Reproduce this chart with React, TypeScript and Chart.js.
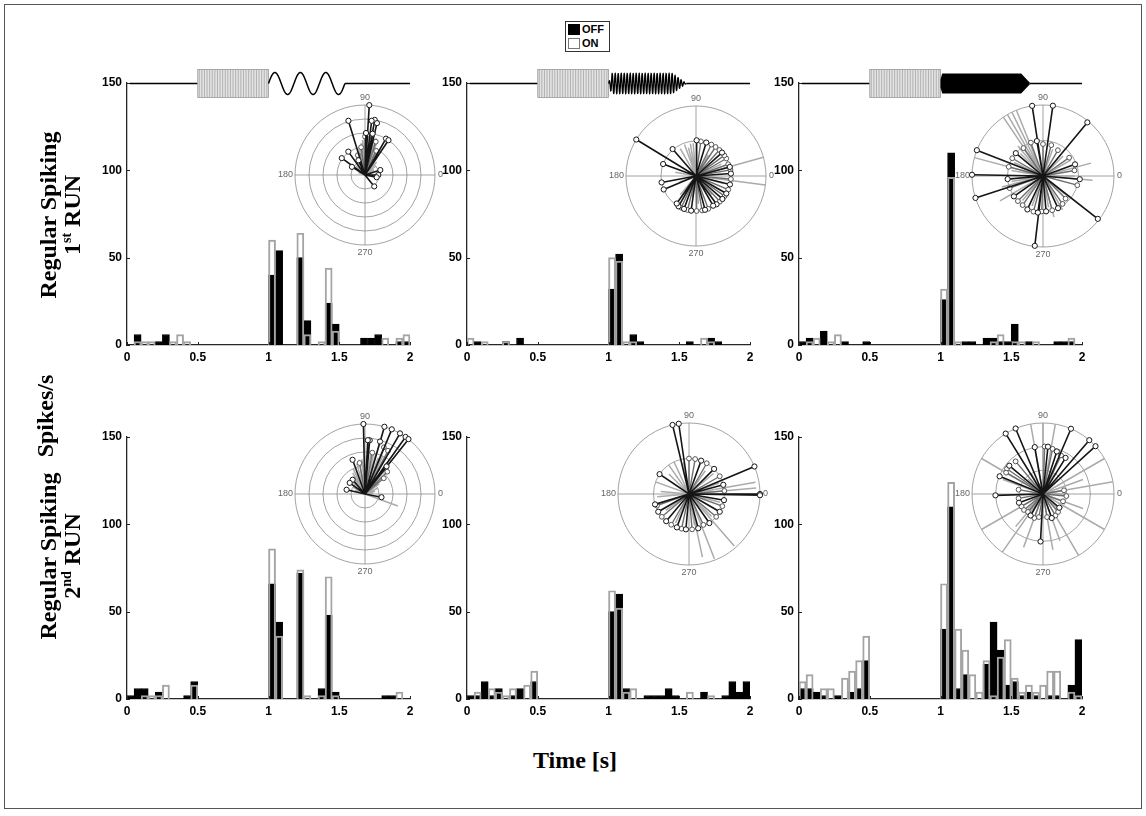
import React, { useEffect, useRef } from 'react';
import { Chart, registerables } from 'chart.js';

Chart.register(...registerables);

// ---------- data ----------
const BIN_W = 0.05;
const N_BINS = 40;
const BIN_CENTERS = Array.from({ length: N_BINS }, (_, i) => +((i + 0.5) * BIN_W).toFixed(3));
const X_TICKS = [0, 0.5, 1, 1.5, 2];
const X_TICK_LABELS = ['0', '0.5', '1', '1.5', '2'];
const Y_TICKS = [0, 50, 100, 150];

// Row 1 (1st RUN)
const R1C1_OFF = [0, 6, 0, 0, 2, 6, 0, 0, 0, 0, 0, 0, 0, 0, 0, 0, 0, 0, 0, 0, 40, 54, 0, 0, 50, 14, 0, 0, 24, 12, 0, 0, 0, 4, 4, 6, 0, 0, 2, 2];
const R1C1_ON = [0, 2, 2, 2, 0, 0, 2, 6, 2, 0, 0, 0, 0, 0, 0, 0, 0, 0, 0, 0, 60, 0, 0, 0, 64, 6, 0, 2, 44, 8, 0, 0, 0, 0, 0, 0, 4, 0, 4, 6];
const R1C2_OFF = [0, 2, 0, 0, 0, 2, 0, 4, 0, 0, 0, 0, 0, 0, 0, 0, 0, 0, 0, 0, 32, 52, 0, 6, 2, 0, 0, 0, 0, 0, 0, 2, 0, 0, 4, 2, 0, 0, 0, 0];
const R1C2_ON = [4, 0, 2, 0, 0, 2, 0, 0, 0, 0, 0, 0, 0, 0, 0, 0, 0, 0, 0, 0, 50, 48, 2, 2, 0, 0, 0, 0, 0, 0, 0, 0, 0, 4, 2, 0, 0, 0, 0, 0];
const R1C3_OFF = [2, 4, 0, 8, 0, 0, 2, 0, 0, 2, 0, 0, 0, 0, 0, 0, 0, 0, 0, 0, 26, 110, 0, 2, 2, 0, 4, 4, 2, 2, 12, 0, 2, 0, 0, 0, 2, 2, 2, 0];
const R1C3_ON = [0, 2, 4, 0, 2, 6, 0, 0, 0, 0, 0, 0, 0, 0, 0, 0, 0, 0, 0, 0, 32, 96, 2, 0, 0, 0, 0, 2, 6, 0, 2, 2, 0, 2, 0, 0, 0, 0, 4, 0];
// Row 2 (2nd RUN)
const R2C1_OFF = [2, 6, 6, 0, 4, 0, 0, 0, 2, 10, 0, 0, 0, 0, 0, 0, 0, 0, 0, 0, 66, 44, 0, 0, 72, 0, 0, 6, 48, 4, 0, 0, 0, 0, 0, 0, 2, 2, 0, 0];
const R2C1_ON = [0, 0, 2, 2, 2, 8, 0, 0, 0, 8, 0, 0, 0, 0, 0, 0, 0, 0, 0, 0, 86, 36, 0, 0, 74, 2, 0, 2, 70, 2, 0, 0, 0, 0, 0, 0, 0, 0, 4, 0];
const R2C2_OFF = [2, 2, 10, 2, 6, 0, 2, 6, 0, 10, 0, 0, 0, 0, 0, 0, 0, 0, 0, 0, 50, 60, 6, 0, 0, 2, 2, 2, 6, 2, 0, 0, 0, 4, 0, 0, 2, 10, 4, 10];
const R2C2_ON = [0, 4, 0, 6, 4, 2, 6, 0, 8, 16, 0, 0, 0, 0, 0, 0, 0, 0, 0, 0, 62, 52, 4, 6, 0, 0, 0, 0, 0, 0, 0, 4, 0, 0, 2, 0, 0, 0, 0, 0];
const R2C3_OFF = [6, 6, 4, 2, 0, 2, 0, 4, 6, 22, 0, 0, 0, 0, 0, 0, 0, 0, 0, 0, 40, 110, 6, 14, 0, 0, 20, 44, 28, 8, 10, 2, 4, 2, 0, 2, 2, 0, 8, 34];
const R2C3_ON = [10, 14, 0, 6, 6, 0, 12, 16, 22, 36, 0, 0, 0, 0, 0, 0, 0, 0, 0, 0, 66, 124, 40, 28, 14, 4, 22, 2, 24, 34, 12, 4, 8, 4, 8, 16, 16, 0, 4, 2];

// Polar spokes: [angle in degrees, radius as fraction of outer ring]
const P1_DARK = [[86.5, 1.0], [107, 0.81], [80, 0.8], [83, 0.78], [77, 0.76], [79.6, 0.6], [60, 0.6], [56, 0.6], [88.6, 0.6], [125.5, 0.41], [144, 0.41], [148, 0.22], [114, 0.23], [18, 0.23], [0, 0.19], [-11, 0.17], [-51, 0.21]];
const P1_GRAY = [[72, 0.5], [90, 0.55], [98, 0.4], [65, 0.38], [110, 0.3]];
const P1_LIGHT = [[62, 0.35], [66, 0.42], [70, 0.5], [73, 0.55], [76, 0.52], [79, 0.58], [82, 0.6], [85, 0.56], [88, 0.6], [91, 0.52], [94, 0.5], [97, 0.46], [100, 0.42], [104, 0.38], [108, 0.32], [112, 0.3], [118, 0.26], [125, 0.22], [135, 0.18], [145, 0.15], [55, 0.3], [48, 0.25], [40, 0.2], [30, 0.15], [20, 0.12], [160, 0.1]];

const P2_DARK = [[148.6, 1.0], [160, 0.5], [190.6, 0.5], [202.6, 0.5], [131, 0.51], [89, 0.51], [73, 0.5], [42, 0.5], [15, 0.5], [4, 0.5], [-14, 0.5], [-41, 0.5], [-54, 0.5], [-75, 0.5], [-110, 0.5], [-120, 0.5], [-125, 0.48], [-30, 0.5], [-60, 0.49], [-98, 0.5]];
const P2_GRAY = [[56, 0.5], [30, 0.5], [-23, 0.5], [-69.5, 0.5], [-89, 0.5], [-104, 0.5], [-115, 0.5], [20, 0.49], [36, 0.5], [48, 0.5], [64, 0.5], [82, 0.5], [10, 0.5], [-5, 0.5], [-35, 0.5], [-47, 0.5], [-80, 0.5]];
const P2_LIGHT = [[15.6, 1.0], [-7.3, 1.0], [100, 0.47], [110, 0.48], [120, 0.45], [95, 0.47], [105, 0.42], [-100, 0.3], [-130, 0.35], [170, 0.3], [-160, 0.25], [60, 0.35], [25, 0.4], [-15, 0.4], [-50, 0.35], [-85, 0.4]];

const P3_DARK = [[98.8, 1.0], [82, 1.0], [50.4, 0.98], [158.7, 1.0], [179, 1.0], [198, 1.0], [-38, 0.98], [-96.7, 0.99], [140, 0.5], [185, 0.5], [215, 0.5], [245, 0.52], [262, 0.52], [275, 0.5], [295, 0.5], [-5, 0.52], [20, 0.48], [100, 0.5]];
const P3_GRAY = [[110, 0.5], [125, 0.48], [150, 0.5], [165, 0.5], [200, 0.5], [225, 0.5], [235, 0.5], [255, 0.52], [268, 0.5], [285, 0.5], [305, 0.48], [315, 0.45], [345, 0.5], [10, 0.45], [35, 0.45], [60, 0.42], [75, 0.45], [90, 0.45]];
const P3_LIGHT = [[112, 1.0], [116, 1.0], [120, 1.0], [124, 1.0], [165, 1.0], [15, 0.7], [-5, 0.7], [195, 0.6], [210, 0.7], [-75, 0.6], [-60, 0.55], [130, 0.55], [30, 0.45], [45, 0.4], [170, 0.45], [190, 0.45], [230, 0.45], [250, 0.45], [280, 0.45], [320, 0.4], [0, 0.45], [70, 0.4], [135, 0.45], [155, 0.45]];

const P4_DARK = [[91.3, 1.0], [73.9, 1.0], [67.5, 1.0], [60, 1.0], [54.6, 1.0], [51.6, 1.0], [85, 0.77], [87, 0.77], [74, 0.78], [110, 0.52], [131, 0.27], [144, 0.27], [167, 0.27], [-11, 0.24], [52, 0.5]];
const P4_GRAY = [[62, 0.7], [68, 0.72], [80, 0.6], [45, 0.45], [40, 0.35], [100, 0.45]];
const P4_LIGHT = [[-20, 0.5], [65, 0.6], [70, 0.55], [75, 0.6], [78, 0.62], [82, 0.6], [88, 0.55], [95, 0.5], [100, 0.5], [105, 0.45], [115, 0.4], [120, 0.35], [125, 0.3], [55, 0.55], [50, 0.45], [45, 0.35], [35, 0.25], [25, 0.2], [15, 0.15], [5, 0.12], [135, 0.25], [150, 0.2], [160, 0.15]];

const P5_DARK = [[103.4, 1.0], [98.3, 1.0], [22.8, 1.0], [0, 1.0], [-1, 1.0], [146, 0.5], [197, 0.5], [210, 0.5], [230, 0.5], [250, 0.5], [265, 0.5], [285, 0.5], [305, 0.5], [330, 0.5], [350, 0.5], [15, 0.5], [45, 0.5], [70, 0.5]];
const P5_GRAY = [[200, 0.48], [220, 0.5], [240, 0.5], [258, 0.5], [275, 0.5], [295, 0.48], [320, 0.5], [340, 0.5], [5, 0.5], [30, 0.5], [60, 0.5], [80, 0.5], [90, 0.5]];
const P5_LIGHT = [[-48.9, 0.97], [-68.6, 0.98], [-78, 0.91], [5, 0.95], [10, 0.95], [115, 0.5], [125, 0.5], [160, 0.5], [175, 0.4], [185, 0.45], [100, 0.45], [135, 0.4], [215, 0.4], [245, 0.45], [280, 0.45], [315, 0.45], [345, 0.45], [20, 0.45], [40, 0.45], [55, 0.4]];

const P6_DARK = [[121.7, 1.0], [112.7, 1.0], [66.8, 1.0], [49.3, 1.0], [42.3, 1.0], [-93, 0.67], [181.6, 0.67], [157.8, 0.66], [140, 0.62], [100, 0.67], [84, 0.67], [72, 0.63], [58, 0.6], [200, 0.36], [240, 0.35], [290, 0.36], [320, 0.3]];
const P6_GRAY = [[145, 0.62], [150, 0.6], [88, 0.67], [78, 0.65], [65, 0.6], [130, 0.6], [210, 0.35], [220, 0.35], [230, 0.33], [250, 0.36], [260, 0.33], [280, 0.33], [300, 0.35], [310, 0.33], [340, 0.3], [355, 0.33], [10, 0.3], [170, 0.35], [190, 0.35]];
const P6_LIGHT = [[90, 1.0], [80, 1.0], [100, 1.0], [30, 1.0], [10, 1.0], [150, 1.0], [210, 1.0], [-30, 1.0], [-60, 1.0], [-80, 0.8], [-110, 0.8], [-125, 1.0], [-70, 0.7], [-20, 0.6], [20, 0.6], [160, 0.6], [230, 0.6], [0, 0.32], [30, 0.32], [60, 0.32], [120, 0.32], [180, 0.32], [270, 0.32], [45, 0.3], [135, 0.3], [225, 0.3], [315, 0.3]];

// Stimulus time windows (s)
const STIM_BASE_START = 0.02;
const STIM_ADAPT = [0.5, 1.0];
const STIM_TEST: Record<string, number[]> = { sine: [1.0, 1.54], fast: [1.0, 1.55], solid: [1.0, 1.63] };

const SANS = '"Liberation Sans", Arial, Helvetica, sans-serif';
const SERIF = '"Liberation Serif", "Times New Roman", Times, serif';

// ---------- plugins ----------
const inwardTicks = {
  id: 'inwardTicks',
  afterDraw(chart: any) {
    const { ctx, chartArea: a, scales } = chart;
    const x = scales.x, y = scales.y;
    ctx.save();
    ctx.strokeStyle = '#222';
    ctx.lineWidth = 1;
    ctx.beginPath();
    X_TICKS.forEach((v) => {
      const p = Math.round(x.getPixelForValue(v)) + 0.5;
      ctx.moveTo(p, a.bottom);
      ctx.lineTo(p, a.bottom - 3);
    });
    Y_TICKS.forEach((v) => {
      const p = Math.round(y.getPixelForValue(v)) + 0.5;
      ctx.moveTo(a.left, p);
      ctx.lineTo(a.left + 3, p);
    });
    ctx.stroke();
    ctx.restore();
  },
};

function makeStimPlugin(kind: string | null) {
  return {
    id: 'stim',
    afterDraw(chart: any) {
      if (!kind) return;
      const { ctx, chartArea, scales } = chart;
      const x = scales.x;
      const px = (v: number) => x.getPixelForValue(v);
      const yb = Math.round(chartArea.top) + 0.5;
      const [ta, tb] = STIM_TEST[kind];
      ctx.save();
      ctx.strokeStyle = '#000';
      ctx.lineWidth = 1.3;
      ctx.beginPath();
      ctx.moveTo(px(STIM_BASE_START), yb);
      ctx.lineTo(px(STIM_ADAPT[0]), yb);
      ctx.moveTo(px(tb), yb);
      ctx.lineTo(px(2), yb);
      ctx.stroke();
      const bx0 = px(STIM_ADAPT[0]), bx1 = px(STIM_ADAPT[1]);
      const h = 14;
      ctx.fillStyle = '#e4e4e4';
      ctx.fillRect(bx0, yb - h, bx1 - bx0, 2 * h);
      ctx.strokeStyle = '#a3a3a3';
      ctx.lineWidth = 0.8;
      ctx.beginPath();
      for (let xx = bx0 + 1.5; xx < bx1; xx += 2.6) {
        ctx.moveTo(xx, yb - h);
        ctx.lineTo(xx, yb + h);
      }
      ctx.stroke();
      ctx.strokeStyle = '#999';
      ctx.strokeRect(bx0, yb - h, bx1 - bx0, 2 * h);
      ctx.strokeStyle = '#000';
      ctx.fillStyle = '#000';
      if (kind === 'sine') {
        ctx.lineWidth = 1.5;
        ctx.beginPath();
        const n = 240;
        for (let i = 0; i <= n; i++) {
          const t = i / n;
          const xx = px(ta + t * (tb - ta));
          const yy = yb - 11 * Math.sin(2 * Math.PI * 3 * t);
          if (i === 0) ctx.moveTo(xx, yy); else ctx.lineTo(xx, yy);
        }
        ctx.stroke();
      } else if (kind === 'fast') {
        ctx.lineWidth = 1.3;
        ctx.beginPath();
        const n = 900;
        for (let i = 0; i <= n; i++) {
          const t = i / n;
          const env = Math.min(1, t / 0.04, (1 - t) / 0.18);
          const xx = px(ta + t * (tb - ta));
          const yy = yb - 10 * env * Math.sin(2 * Math.PI * 26 * t);
          if (i === 0) ctx.moveTo(xx, yy); else ctx.lineTo(xx, yy);
        }
        ctx.stroke();
      } else if (kind === 'solid') {
        const hh = 10;
        ctx.beginPath();
        ctx.moveTo(px(ta), yb - 4);
        ctx.lineTo(px(ta + 0.012), yb - hh);
        ctx.lineTo(px(tb - 0.06), yb - hh);
        ctx.lineTo(px(tb), yb - 1);
        ctx.lineTo(px(tb), yb + 1);
        ctx.lineTo(px(tb - 0.06), yb + hh);
        ctx.lineTo(px(ta + 0.012), yb + hh);
        ctx.lineTo(px(ta), yb + 4);
        ctx.closePath();
        ctx.fill();
      }
      ctx.restore();
    },
  };
}

function makePolarGrid(rings: number) {
  return {
    id: 'polarGrid',
    beforeDatasetsDraw(chart: any) {
      const { ctx, scales } = chart;
      const x = scales.x, y = scales.y;
      const cx = x.getPixelForValue(0), cy = y.getPixelForValue(0);
      const R = x.getPixelForValue(1) - cx;
      ctx.save();
      ctx.strokeStyle = '#8c8c8c';
      ctx.lineWidth = 0.8;
      for (let k = 1; k <= rings; k++) {
        ctx.beginPath();
        ctx.arc(cx, cy, (R * k) / rings, 0, Math.PI * 2);
        ctx.stroke();
      }
      ctx.beginPath();
      ctx.moveTo(cx - R, cy);
      ctx.lineTo(cx + R, cy);
      ctx.moveTo(cx, cy - R);
      ctx.lineTo(cx, cy + R);
      ctx.stroke();
      ctx.fillStyle = '#666';
      ctx.font = `9px ${SANS}`;
      ctx.textAlign = 'center';
      ctx.textBaseline = 'middle';
      ctx.fillText('90', cx, cy - R - 7);
      ctx.fillText('270', cx, cy + R + 8);
      ctx.textAlign = 'right';
      ctx.fillText('180', cx - R - 2, cy);
      ctx.textAlign = 'left';
      ctx.fillText('0', cx + R + 3, cy);
      ctx.restore();
    },
  };
}

// ---------- components ----------
function Hist(props: { off: number[]; on: number[]; x0: number; x1: number; yTop: number; yBot: number; stim: string | null }) {
  const { off, on, x0, x1, yTop, yBot, stim } = props;
  const ref = useRef<HTMLCanvasElement>(null);
  const PL = 45, PR = 12, PT = 22, PB = 26;
  const W = x1 - x0 + PL + PR;
  const H = yBot - yTop + PT + PB;
  useEffect(() => {
    const toData = (arr: number[]) => BIN_CENTERS.map((xv, i) => ({ x: xv, y: arr[i] > 0 ? arr[i] : null }));
    const tickFont = { family: SANS, weight: 'bold' as const, size: 12 };
    const chart = new Chart(ref.current as HTMLCanvasElement, {
      type: 'bar',
      data: {
        datasets: [
          {
            label: 'ON',
            data: toData(on) as any,
            backgroundColor: 'rgba(255,255,255,0)',
            borderColor: '#a4a4a4',
            borderWidth: 1.3,
            order: 0,
            grouped: false,
            barPercentage: 1,
            categoryPercentage: 1,
          } as any,
          {
            label: 'OFF',
            data: toData(off) as any,
            backgroundColor: '#000',
            borderColor: '#000',
            borderWidth: 1,
            order: 1,
            grouped: false,
            barPercentage: 1,
            categoryPercentage: 1,
          } as any,
        ],
      },
      options: {
        animation: false,
        responsive: false,
        maintainAspectRatio: false,
        events: [],
        layout: { padding: { left: 0, right: PR, top: PT, bottom: 0 } },
        plugins: { legend: { display: false }, tooltip: { enabled: false } },
        scales: {
          x: {
            type: 'linear',
            min: 0,
            max: 2,
            offset: false,
            grid: { display: false, drawTicks: false, offset: false },
            border: { display: true, color: '#262626', width: 1.3 },
            afterBuildTicks: (s: any) => { s.ticks = X_TICKS.map((v) => ({ value: v })); },
            ticks: {
              padding: 5,
              font: tickFont,
              color: '#000',
              maxRotation: 0,
              autoSkip: false,
              callback: (v: any) => {
                const i = X_TICKS.indexOf(Number(v));
                return i >= 0 ? X_TICK_LABELS[i] : '';
              },
            },
            afterFit: (s: any) => { s.height = PB; },
          },
          y: {
            type: 'linear',
            min: 0,
            max: 150,
            grid: { display: false, drawTicks: false },
            border: { display: true, color: '#262626', width: 1.3 },
            afterBuildTicks: (s: any) => { s.ticks = Y_TICKS.map((v) => ({ value: v })); },
            ticks: { padding: 5, font: tickFont, color: '#000', callback: (v: any) => String(v) },
            afterFit: (s: any) => { s.width = PL; },
          },
        },
      } as any,
      plugins: [inwardTicks, makeStimPlugin(stim)],
    });
    return () => chart.destroy();
  }, []);
  return (
    <canvas
      ref={ref}
      width={W}
      height={H}
      style={{ position: 'absolute', left: x0 - PL, top: yTop - PT, width: W, height: H }}
    />
  );
}

function Polar(props: { cx: number; cy: number; R: number; rings: number; dark: number[][]; gray: number[][]; light: number[][] }) {
  const { cx, cy, R, rings, dark, gray, light } = props;
  const ref = useRef<HTMLCanvasElement>(null);
  const PAD = 26;
  const S = 2 * R + 2 * PAD;
  useEffect(() => {
    const seg = (arr: number[][]) =>
      arr.flatMap(([a, r]) => {
        const t = (a * Math.PI) / 180;
        return [{ x: 0, y: 0 }, { x: r * Math.cos(t), y: r * Math.sin(t) }, { x: null, y: null }];
      });
    const tip = (rad: number) => (c: any) => (c.dataIndex % 3 === 1 ? rad : 0);
    const chart = new Chart(ref.current as HTMLCanvasElement, {
      type: 'scatter',
      data: {
        datasets: [
          {
            data: seg(dark) as any,
            showLine: true,
            spanGaps: false,
            borderColor: '#151515',
            borderWidth: 1.6,
            pointRadius: tip(2.6),
            pointBackgroundColor: '#fff',
            pointBorderColor: '#151515',
            pointBorderWidth: 1,
            order: 0,
            clip: false,
          } as any,
          {
            data: seg(gray) as any,
            showLine: true,
            spanGaps: false,
            borderColor: '#6e6e6e',
            borderWidth: 1.4,
            pointRadius: tip(2.4),
            pointBackgroundColor: '#fff',
            pointBorderColor: '#555',
            pointBorderWidth: 1,
            order: 1,
            clip: false,
          } as any,
          {
            data: seg(light) as any,
            showLine: true,
            spanGaps: false,
            borderColor: '#ababab',
            borderWidth: 1.5,
            pointRadius: 0,
            order: 2,
            clip: false,
          } as any,
        ],
      },
      options: {
        animation: false,
        responsive: false,
        maintainAspectRatio: false,
        events: [],
        layout: { padding: PAD },
        plugins: { legend: { display: false }, tooltip: { enabled: false } },
        scales: {
          x: { type: 'linear', min: -1, max: 1, display: false },
          y: { type: 'linear', min: -1, max: 1, display: false },
        },
      } as any,
      plugins: [makePolarGrid(rings)],
    });
    return () => chart.destroy();
  }, []);
  return (
    <canvas
      ref={ref}
      width={S}
      height={S}
      style={{ position: 'absolute', left: cx - R - PAD, top: cy - R - PAD, width: S, height: S }}
    />
  );
}

const rotLabel = (cx: number, cy: number): React.CSSProperties => ({
  position: 'absolute',
  left: cx,
  top: cy,
  transform: 'translate(-50%, -50%) rotate(-90deg)',
  fontFamily: SERIF,
  fontWeight: 'bold',
  fontSize: 24,
  lineHeight: '24px',
  textAlign: 'center',
  whiteSpace: 'nowrap',
  color: '#000',
});

const supStyle: React.CSSProperties = { fontSize: 14, verticalAlign: 'super', lineHeight: 0 };

export default function App() {
  return (
    <div style={{ position: 'absolute', left: 0, top: 0, width: 1146, height: 816, background: '#fff', overflow: 'hidden' }}>
      <div style={{ position: 'absolute', left: 4, top: 4, width: 1138, height: 805, border: '1px solid #555', boxSizing: 'border-box' }} />

      <Hist off={R1C1_OFF} on={R1C1_ON} x0={127} x1={410} yTop={83} yBot={345} stim="sine" />
      <Hist off={R1C2_OFF} on={R1C2_ON} x0={467} x1={750} yTop={83} yBot={345} stim="fast" />
      <Hist off={R1C3_OFF} on={R1C3_ON} x0={799} x1={1082} yTop={83} yBot={345} stim="solid" />
      <Hist off={R2C1_OFF} on={R2C1_ON} x0={127} x1={410} yTop={437} yBot={699} stim={null} />
      <Hist off={R2C2_OFF} on={R2C2_ON} x0={467} x1={750} yTop={437} yBot={699} stim={null} />
      <Hist off={R2C3_OFF} on={R2C3_ON} x0={799} x1={1082} yTop={437} yBot={699} stim={null} />

      <Polar cx={365} cy={175} R={70} rings={5} dark={P1_DARK} gray={P1_GRAY} light={P1_LIGHT} />
      <Polar cx={696} cy={176} R={70} rings={2} dark={P2_DARK} gray={P2_GRAY} light={P2_LIGHT} />
      <Polar cx={1043} cy={176} R={71} rings={2} dark={P3_DARK} gray={P3_GRAY} light={P3_LIGHT} />
      <Polar cx={365} cy={494} R={70} rings={5} dark={P4_DARK} gray={P4_GRAY} light={P4_LIGHT} />
      <Polar cx={689} cy={494} R={71} rings={2} dark={P5_DARK} gray={P5_GRAY} light={P5_LIGHT} />
      <Polar cx={1043} cy={494} R={71} rings={3} dark={P6_DARK} gray={P6_GRAY} light={P6_LIGHT} />

      {/* legend */}
      <div style={{ position: 'absolute', left: 565, top: 21, width: 45, height: 31, border: '1px solid #333', background: '#fff', boxSizing: 'border-box', fontFamily: SANS, fontWeight: 'bold', fontSize: 11, color: '#000' }}>
        <div style={{ position: 'absolute', left: 2, top: 2, width: 12, height: 11, background: '#000' }} />
        <div style={{ position: 'absolute', left: 16, top: 1, lineHeight: '13px' }}>OFF</div>
        <div style={{ position: 'absolute', left: 2, top: 16, width: 12, height: 11, background: '#fff', border: '1px solid #777', boxSizing: 'border-box' }} />
        <div style={{ position: 'absolute', left: 16, top: 15, lineHeight: '13px' }}>ON</div>
      </div>

      {/* axis titles */}
      <div style={rotLabel(60, 215)}>
        Regular Spiking<br />1<span style={supStyle}>st</span> RUN
      </div>
      <div style={rotLabel(45, 416)}>Spikes/s</div>
      <div style={rotLabel(60, 556)}>
        Regular Spiking<br />2<span style={supStyle}>nd</span> RUN
      </div>
      <div style={{ position: 'absolute', left: 575, top: 760, transform: 'translate(-50%, -50%)', fontFamily: SERIF, fontWeight: 'bold', fontSize: 24, whiteSpace: 'nowrap', color: '#000' }}>
        Time [s]
      </div>
    </div>
  );
}
